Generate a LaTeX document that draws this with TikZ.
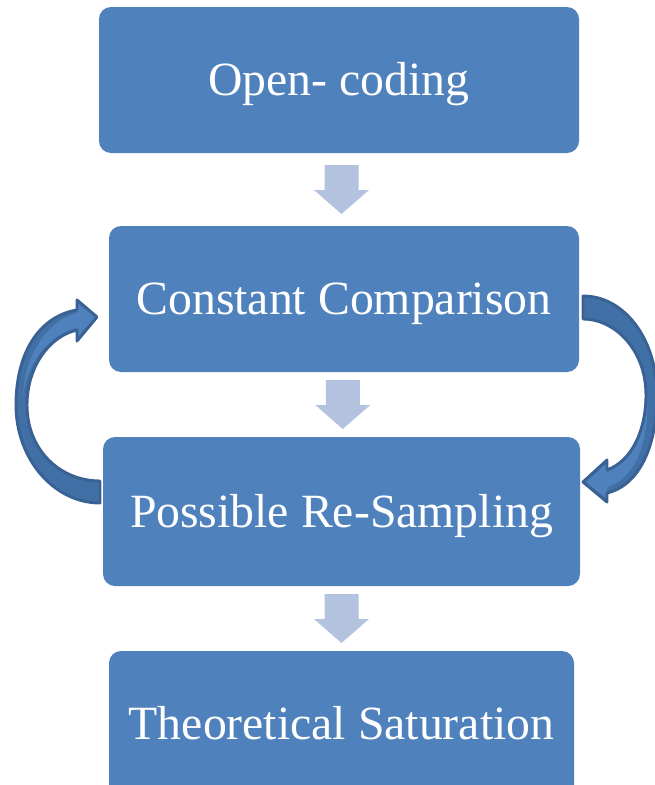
\documentclass[tikz,border=0pt]{standalone}
\usepackage{fontspec}
\setmainfont{Liberation Serif}
\newfontfamily\boxfont{Liberation Serif}
\usetikzlibrary{calc}
\definecolor{boxblue}{HTML}{4F81BD}
\definecolor{lightarrow}{HTML}{B3C3DF}
\definecolor{curveback}{HTML}{4170A6}
\definecolor{curveedge}{HTML}{3A6194}
\begin{document}
\begin{tikzpicture}[x=0.75pt,y=-0.75pt,
  box/.style={rectangle, rounded corners=9pt, fill=boxblue, text=white,
    font=\boxfont\fontsize{35.8}{43}\selectfont, text height=23.7pt, text depth=0pt,
    inner sep=0pt, anchor=center},
  downarrow/.style={fill=lightarrow},
  curveshape/.style={fill=curveback},
  curvefront/.style={fill=boxblue},
  curveline/.style={draw=curveedge, line width=2.2pt, line join=round}]
\clip (0,0) rectangle (655,785);
\path[use as bounding box] (0,0) rectangle (655,785);

% boxes
\node[box, minimum width=360pt, minimum height=109.5pt] (b1) at (339,80) {Open- coding};
\node[box, minimum width=352.5pt, minimum height=109.5pt] (b2) at (344,299) {Constant Comparison};
\node[box, minimum width=357.75pt, minimum height=111.75pt] (b3) at (341.5,511.5) {Possible Re-Sampling};
\node[box, minimum width=348.75pt, minimum height=109.5pt] (b4) at (341.5,724) {Theoretical Saturation};

% down block arrows
\coordinate (m1) at ($(b1.south)!0.5!(b2.north)$);
\coordinate (m2) at ($(b2.south)!0.5!(b3.north)$);
\coordinate (m3) at ($(b3.south)!0.5!(b4.north)$);
\foreach \m in {m1,m2,m3}{
  \begin{scope}[shift={(\m)}]
    \fill[downarrow] (-17,-24.5) -- (17,-24.5) -- (17,0.5) -- (27.5,0.5)
      -- (0,24.5) -- (-27.5,0.5) -- (-17,0.5) -- cycle;
  \end{scope}
}

% left curved arrow (from Possible Re-Sampling back to Constant Comparison)
\def\leftsil{(100,503) .. controls (54,503) and (16,459) .. (16,405)
  .. controls (16,352) and (40,316) .. (77,310) -- (77,300) -- (97,317)
  -- (77,341) -- (77,330) .. controls (50,336) and (27,366) .. (27,405)
  .. controls (27,450) and (60,481) .. (100,481) -- cycle}
\path[curveshape] \leftsil;
\path[curvefront] (77,313) -- (77,303) -- (95,317) -- (77,338) -- (77,328)
  .. controls (50,334) and (26,362) .. (23,398)
  .. controls (24,355) and (48,320) .. (77,313) -- cycle;
\path[curveline] \leftsil;

% right curved arrow (from Constant Comparison to Possible Re-Sampling)
\def\rightsil{(583,296) .. controls (625,296) and (657,340) .. (657,395)
  .. controls (657,445) and (640,485) .. (607,493) -- (607,502) -- (583,482)
  -- (607,460) -- (607,470) .. controls (632,461) and (646,430) .. (646,395)
  .. controls (646,350) and (615,319) .. (583,319) -- cycle}
\path[curveshape] \rightsil;
\path[curvefront] (607,487) -- (607,499) -- (586,482) -- (607,463) -- (607,471)
  .. controls (632,462) and (646,432) .. (647,392)
  .. controls (650,440) and (636,479) .. (607,487) -- cycle;
\path[curveline] \rightsil;
\end{tikzpicture}
\end{document}
